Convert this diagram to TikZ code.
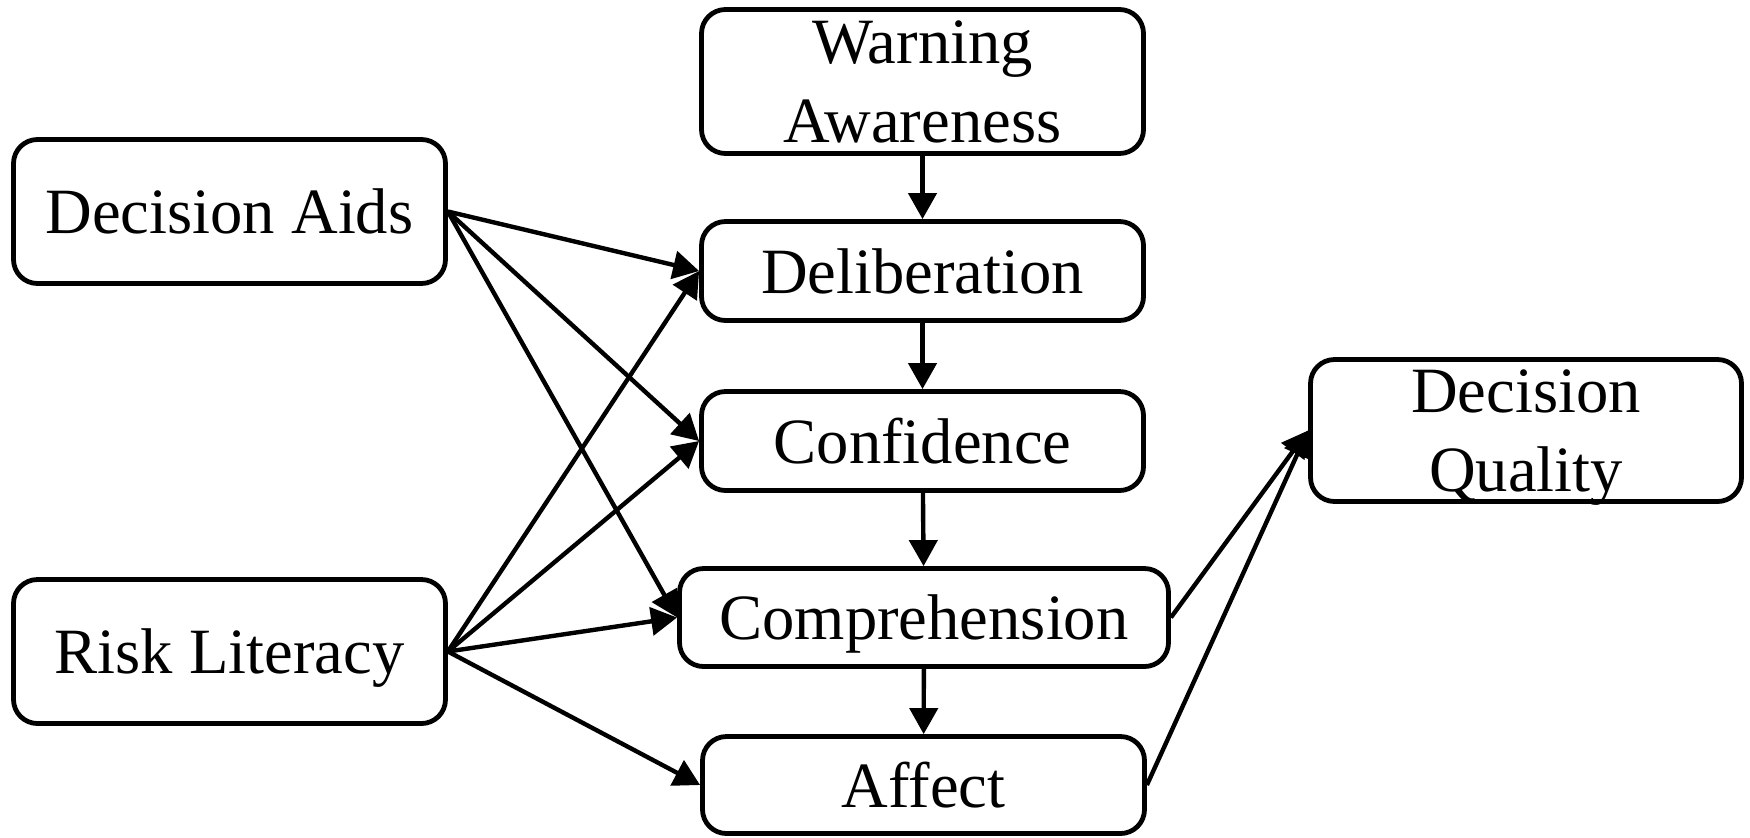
\documentclass[tikz,border=0pt]{standalone}
\usepackage{fontspec}
\setmainfont{Liberation Serif}
\usetikzlibrary{arrows.meta}
\begin{document}
\begin{tikzpicture}[x=0.5pt,y=-0.5pt,
  box/.style={draw, line width=2.4pt, rounded corners=12pt, inner sep=0pt,
    align=center, text depth=-3pt, font=\fontsize{32.3}{39.5}\selectfont},
  arr/.style={line width=2.2pt, -{Triangle[length=13pt,width=14pt]}}]
\useasboundingbox (0,0) rectangle (1750,837);
\node[box, minimum width=221pt, minimum height=72pt] (wa) at (922.5,81.5) {Warning\\Awareness};
\node[box, minimum width=221pt, minimum height=49.5pt] (del) at (922.5,271) {Deliberation};
\node[box, minimum width=221pt, minimum height=49.5pt] (conf) at (922.5,441) {Confidence};
\node[box, minimum width=244.5pt, minimum height=49pt] (comp) at (924,617.5) {Comprehension};
\node[box, minimum width=221pt, minimum height=48.5pt] (aff) at (923.5,785) {Affect};
\node[box, minimum width=216pt, minimum height=72pt] (da) at (229.5,211.5) {Decision Aids};
\node[box, minimum width=216pt, minimum height=72pt] (rl) at (229.5,651.5) {Risk Literacy};
\node[box, minimum width=215.5pt, minimum height=71pt] (dq) at (1526,430.5) {Decision\\Quality};
\draw[arr] (wa) -- (del);
\draw[arr] (del) -- (conf);
\draw[arr] (conf) -- (comp);
\draw[arr] (comp) -- (aff);
\draw[arr] (da.east) -- (del.west);
\draw[arr] (da.east) -- (conf.west);
\draw[arr] (da.east) -- (comp.west);
\draw[arr] (rl.east) -- (del.west);
\draw[arr] (rl.east) -- (conf.west);
\draw[arr] (rl.east) -- (comp.west);
\draw[arr] (rl.east) -- (aff.west);
\draw[arr] (comp.east) -- (dq.west);
\draw[arr] (aff.east) -- (dq.west);
\end{tikzpicture}
\end{document}
